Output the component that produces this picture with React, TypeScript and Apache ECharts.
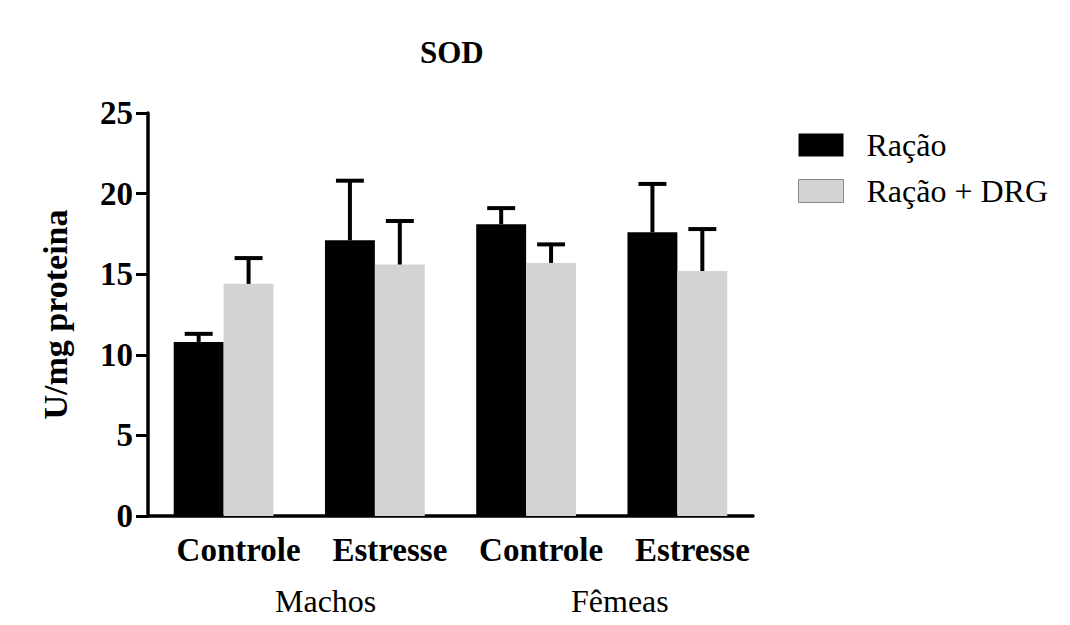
import React, { useEffect, useRef } from "react";
import * as echarts from "echarts";

const categories = ["Controle", "Estresse", "Controle", "Estresse"];
const groupLabels = ["Machos", "Fêmeas"];
const racao = [10.8, 17.1, 18.1, 17.6];
const racaoErr = [0.5, 3.7, 1.0, 3.0];
const racaoDrg = [14.4, 15.6, 15.7, 15.2];
const racaoDrgErr = [1.6, 2.7, 1.15, 2.6];
const yTicks = [0, 5, 10, 15, 20, 25];

const SERIF = "'Liberation Serif', 'Times New Roman', serif";

function errorSeries(name: string, values: number[], errs: number[], side: number) {
  return {
    type: "custom",
    name: name + " err",
    silent: true,
    z: 5,
    data: values.map((v, i) => [i, v, v + errs[i]]),
    renderItem: (params: any, api: any) => {
      const idx = api.value(0);
      const lo = api.coord([idx, api.value(1)]);
      const hi = api.coord([idx, api.value(2)]);
      const band = api.size([1, 0])[0];
      const barW = (band * 0.66) / 2;
      const cx = lo[0] + side * barW / 2;
      const capHalf = barW * 0.28;
      const style = { stroke: "#000", lineWidth: 4, lineCap: "butt" };
      return {
        type: "group",
        children: [
          { type: "line", shape: { x1: cx, y1: lo[1], x2: cx, y2: hi[1] }, style },
          { type: "line", shape: { x1: cx - capHalf, y1: hi[1], x2: cx + capHalf, y2: hi[1] }, style },
        ],
      };
    },
  };
}

export default function App() {
  const ref = useRef<HTMLDivElement>(null);
  useEffect(() => {
    if (!ref.current) return;
    const chart = echarts.init(ref.current, null, { renderer: "svg" });
    chart.setOption({
      animation: false,
      backgroundColor: "#fff",
      title: {
        text: "SOD",
        left: 415,
        top: 32,
        textStyle: { fontFamily: SERIF, fontWeight: "bold", fontSize: 31, color: "#000" },
      },
      legend: {
        orient: "vertical",
        left: 793,
        top: 124,
        itemWidth: 45,
        itemHeight: 23,
        itemGap: 14,
        icon: "rect",
        textStyle: { fontFamily: SERIF, fontSize: 32, color: "#000", padding: [0, 0, 0, 18] },
        data: [
          { name: "Ração", itemStyle: { color: "#000" } },
          { name: "Ração + DRG", itemStyle: { color: "#d3d3d3", borderColor: "#8a8a8a", borderWidth: 1 } },
        ],
      },
      grid: { left: 148, right: 317, top: 113, bottom: 109 },
      xAxis: {
        type: "category",
        data: categories,
        axisLine: { lineStyle: { color: "#000", width: 3.5 } },
        axisTick: { alignWithLabel: true, length: 12, lineStyle: { color: "#000", width: 3 } },
        axisLabel: {
          fontFamily: SERIF,
          fontWeight: "bold",
          fontSize: 33,
          color: "#000",
          margin: 17,
          padding: [0, 0, 0, 30],
          interval: 0,
        },
      },
      yAxis: {
        type: "value",
        min: 0,
        max: 25,
        interval: 5,
        name: "U/mg proteina",
        nameLocation: "middle",
        nameRotate: 90,
        nameGap: 76,
        nameTextStyle: { fontFamily: SERIF, fontWeight: "bold", fontSize: 34, color: "#000" },
        axisLine: { show: true, lineStyle: { color: "#000", width: 3.5 } },
        axisTick: { show: true, length: 12, lineStyle: { color: "#000", width: 3 } },
        splitLine: { show: false },
        axisLabel: {
          fontFamily: SERIF,
          fontWeight: "bold",
          fontSize: 33,
          color: "#000",
          margin: 15,
          formatter: (v: number) => (yTicks.includes(v) ? String(v) : ""),
        },
      },
      series: [
        {
          type: "bar",
          name: "Ração",
          data: racao,
          barGap: "0%",
          barCategoryGap: "34%",
          itemStyle: { color: "#000" },
        },
        {
          type: "bar",
          name: "Ração + DRG",
          data: racaoDrg,
          barGap: "0%",
          barCategoryGap: "34%",
          itemStyle: { color: "#d3d3d3" },
        },
        errorSeries("Ração", racao, racaoErr, -1),
        errorSeries("Ração + DRG", racaoDrg, racaoDrgErr, 1),
      ],
      graphic: [
        {
          type: "text",
          left: 275,
          top: 585,
          style: { text: groupLabels[0], font: `32px ${SERIF}`, lineHeight: 32, fill: "#000" },
        },
        {
          type: "text",
          left: 571,
          top: 585,
          style: { text: groupLabels[1], font: `32px ${SERIF}`, lineHeight: 32, fill: "#000" },
        },
      ],
    });
    return () => chart.dispose();
  }, []);
  return (
    <div
      ref={ref}
      style={{ position: "fixed", left: 0, top: 0, width: 1070, height: 625, background: "#fff" }}
    />
  );
}
